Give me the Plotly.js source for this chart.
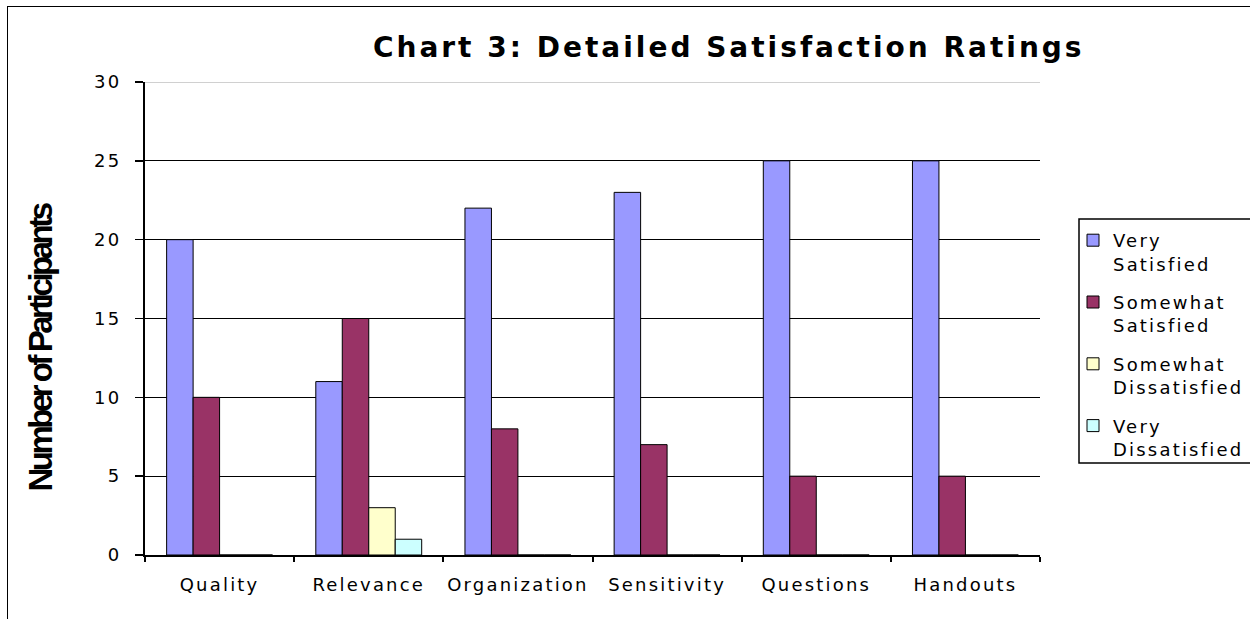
<!DOCTYPE html>
<html>
<head>
<meta charset="utf-8">
<script src="https://cdn.plot.ly/plotly-3.0.1.min.js"></script>
<style>
html,body{margin:0;padding:0;background:#fff;}
#frame{position:absolute;left:7px;top:6px;width:1300px;height:700px;border-left:1.5px solid #000;border-top:1.5px solid #000;pointer-events:none;z-index:5;}
#chart{width:1250px;height:619px;}
.xtick text, .ytick text, .legendtext{letter-spacing:2.2px;}
.gtitle{letter-spacing:3px;}
.annotation text{letter-spacing:-3.5px;}
</style>
</head>
<body>
<div id="frame"></div>
<div id="chart"></div>
<script>
const categories = ["Quality", "Relevance", "Organization", "Sensitivity", "Questions", "Handouts"];
const verySatisfied = [20, 11, 22, 23, 25, 25];
const somewhatSatisfied = [10, 15, 8, 7, 5, 5];
const somewhatDissatisfied = [0, 3, 0, 0, 0, 0];
const veryDissatisfied = [0, 1, 0, 0, 0, 0];
const seriesNames = ["Very<br>Satisfied", "Somewhat<br>Satisfied", "Somewhat<br>Dissatisfied", "Very<br>Dissatisfied"];
const seriesColors = ["#9999FF", "#993366", "#FFFFCC", "#CCFFFF"];
const yTicks = [0, 5, 10, 15, 20, 25, 30];

const allSeries = [verySatisfied, somewhatSatisfied, somewhatDissatisfied, veryDissatisfied];
const traces = allSeries.map((vals, i) => ({
  type: "bar",
  x: categories,
  y: vals,
  name: seriesNames[i],
  legendgroup: "g" + i,
  marker: {color: seriesColors[i], line: {color: "#000", width: 1}},
  hoverinfo: "x+y"
}));

const font = "DejaVu Sans, Verdana, sans-serif";
const L = 145, R = 1040, T = 82, B = 555;
const px2x = p => (p - L) / (R - L);
const px2y = p => (B - p) / (B - T);

const layout = {
  width: 1250, height: 619,
  paper_bgcolor: "#fff", plot_bgcolor: "#fff",
  margin: {l: L, r: 1250 - R, t: T, b: 619 - B, autoexpand: false},
  barmode: "group", bargap: 0.29, bargroupgap: 0,
  title: {text: "<b>Chart 3: Detailed Satisfaction Ratings</b>", font: {family: font, size: 28, color: "#000"}, x: 0.583, xanchor: "center", y: 0.924, yanchor: "middle"},
  xaxis: {
    type: "category", layer: "above traces",
    showline: true, linecolor: "#000", linewidth: 2,
    ticks: "outside", tickson: "boundaries", ticklen: 5, tickcolor: "#000", tickwidth: 2,
    ticklabelstandoff: 12,
    tickfont: {family: font, size: 18, color: "#000"},
    showgrid: false
  },
  yaxis: {
    range: [0, 30], tickvals: yTicks, ticktext: yTicks.map(String),
    showline: true, linecolor: "#000", linewidth: 2, layer: "above traces",
    ticks: "outside", ticklen: 8, tickcolor: "#000", tickwidth: 1.5,
    ticklabelstandoff: 10,
    gridcolor: "#000", gridwidth: 1, zeroline: false,
    tickfont: {family: font, size: 18, color: "#000"}
  },
  annotations: [{
    text: "<b>Number of Participants</b>", textangle: -90, showarrow: false,
    xref: "paper", yref: "paper", x: px2x(40), y: px2y(349), xanchor: "center", yanchor: "middle",
    font: {family: "Liberation Sans Narrow, Liberation Sans, Arial, sans-serif", size: 33, color: "#000"}
  }],
  legend: {
    x: px2x(1073), xanchor: "left", y: px2y(222), yanchor: "top",
    borderwidth: 0, bgcolor: "rgba(0,0,0,0)",
    font: {family: font, size: 18, color: "#000"},
    tracegroupgap: 12, itemwidth: 30, traceorder: "grouped", valign: "top"
  },
  shapes: [
    {type: "line", xref: "paper", yref: "y", x0: 0, x1: 1, y0: 30, y1: 30, line: {color: "#c0c0c0", width: 1.5}},
    {type: "rect", xref: "paper", yref: "paper", x0: px2x(1079), x1: px2x(1262), y0: px2y(463), y1: px2y(219), line: {color: "#000", width: 1.5}, fillcolor: "rgba(0,0,0,0)", layer: "below"}
  ],
  showlegend: true
};

Plotly.newPlot("chart", traces, layout, {displayModeBar: false, staticPlot: true});
</script>
</body>
</html>
